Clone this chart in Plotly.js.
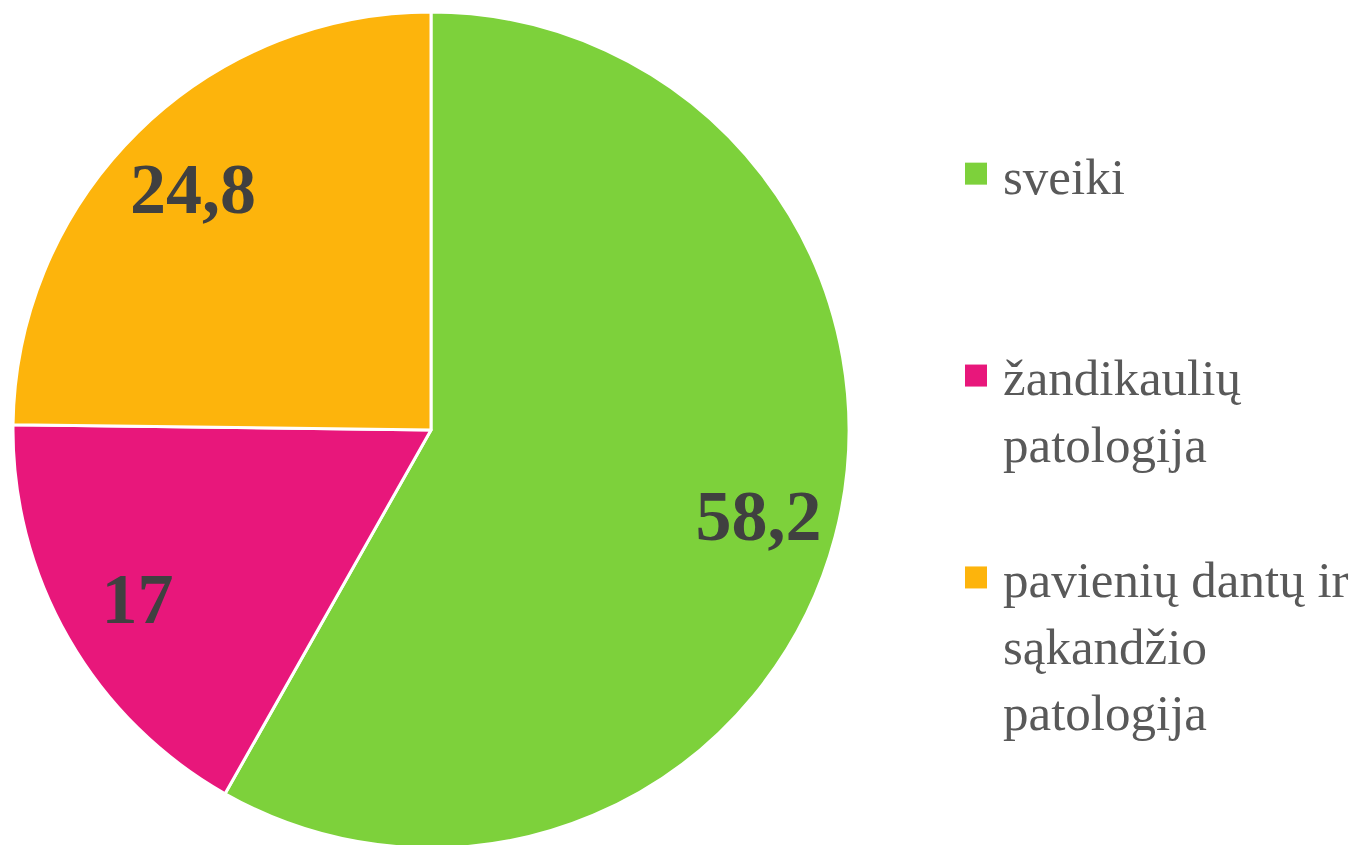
<!DOCTYPE html>
<html>
<head>
<meta charset="utf-8">
<script src="https://cdn.plot.ly/plotly-3.0.1.min.js"></script>
<style>
html, body { margin: 0; padding: 0; overflow: hidden; background: #ffffff; }
#chart { width: 1368px; height: 852px; }
</style>
</head>
<body>
<div id="chart"></div>
<script>
const categories = ["sveiki", "žandikaulių patologija", "pavienių dantų ir sąkandžio patologija"];
const legendLabels = ["sveiki<br> <br> ", "žandikaulių<br>patologija<br> ", "pavienių dantų ir<br>sąkandžio<br>patologija"];
const values = [58.2, 17, 24.8];
const colors = ["#7DD13B", "#E8177B", "#FDB40C"];

const W = 1368, H = 852;
const dom = { x: [13 / W, 849 / W], y: [(H - 848) / H, (H - 12) / H] };

const pieTrace = {
  type: "pie",
  labels: legendLabels,
  values: values,
  sort: false,
  direction: "clockwise",
  rotation: 0,
  marker: { colors: colors, line: { color: "#ffffff", width: 3 } },
  textinfo: "none",
  hoverinfo: "label+value",
  domain: dom
};

// transparent ring carrying the value labels, so they sit further out like the original
const labelTrace = {
  type: "pie",
  labels: categories,
  values: values,
  sort: false,
  direction: "clockwise",
  rotation: 0,
  hole: 0.62,
  showlegend: false,
  marker: { colors: ["rgba(0,0,0,0)", "rgba(0,0,0,0)", "rgba(0,0,0,0)"], line: { width: 0 } },
  textinfo: "value",
  textposition: "inside",
  insidetextorientation: "horizontal",
  textfont: { family: "Liberation Serif, Times New Roman, serif", size: 72, color: "#404040", weight: "bold" },
  hoverinfo: "skip",
  domain: dom
};

const layout = {
  width: W,
  height: H,
  margin: { l: 0, r: 0, t: 0, b: 0 },
  paper_bgcolor: "#ffffff",
  separators: ", ",
  showlegend: true,
  legend: {
    x: 963 / W,
    xanchor: "left",
    y: 1 - 134 / H,
    yanchor: "top",
    valign: "top",
    font: { family: "Liberation Serif, Times New Roman, serif", size: 51, color: "#595959" },
    bgcolor: "rgba(0,0,0,0)",
    itemclick: false
  }
};

Plotly.newPlot("chart", [pieTrace, labelTrace], layout, { displayModeBar: false, staticPlot: true }).then(function (gd) {
  gd.querySelectorAll(".legend .legendpoints path").forEach(function (p) {
    p.setAttribute("d", "M11,11V-11H-11V11Z");
    p.setAttribute("transform", "translate(13,0)");
    p.style.strokeWidth = "0px";
  });
});
</script>
</body>
</html>
